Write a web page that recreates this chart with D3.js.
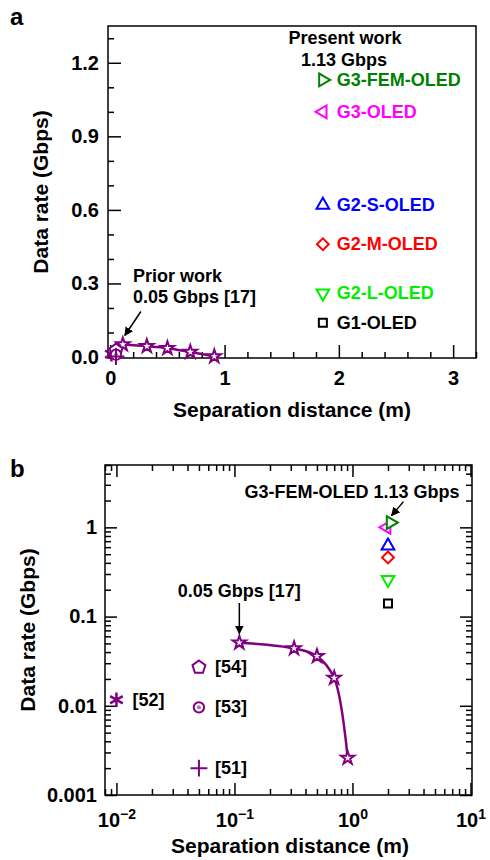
<!DOCTYPE html>
<html>
<head>
<meta charset="utf-8">
<script src="https://cdnjs.cloudflare.com/ajax/libs/d3/7.8.5/d3.min.js"></script>
<style>
  body { margin: 0; background: #fff; }
  svg text { font-family: "Liberation Sans", Arial, Helvetica, sans-serif; font-weight: bold; }
</style>
</head>
<body>
<script>
"use strict";
// prior work [17], star curve
const priorDist = [0.11, 0.32, 0.5, 0.7, 0.91]
const priorRate = [0.051, 0.044, 0.036, 0.0205, 0.0026]
// other references
const refLabels = ["[52]", "[54]", "[53]", "[51]"]
const refDist = [0.01, 0.05, 0.05, 0.05]
const refRate = [0.0117, 0.027, 0.0096, 0.002]
const refShapes = ["asterisk", "pentagon", "circle", "plus"]
// present work
const gNames = ["G3-FEM-OLED", "G3-OLED", "G2-S-OLED", "G2-M-OLED", "G2-L-OLED", "G1-OLED"]
const gRates = [1.13, 1.0, 0.62, 0.46, 0.26, 0.14]
const gDist = [2.1, 1.95, 2, 2, 2, 2]
const gLegendDist = 1.86
const gColors = ["#008000", "#ff00ff", "#0000ff", "#ff0000", "#00ee00", "#000000"]
const gShapes = ["triRight", "triLeft", "triUp", "diamond", "triDown", "square"]
// ticks
const aXTicks = [0, 1, 2, 3]
const aYTicks = [0, 0.3, 0.6, 0.9, 1.2]
const bXTicks = [0.01, 0.1, 1, 10]
const bYTicks = [0.001, 0.01, 0.1, 1]

const purple = "#800080"
const font = 20

const svg = d3.select("body").append("svg")
    .attr("width", 490)
    .attr("height", 860)

svg.append("defs").append("marker")
    .attr("id", "arrow")
    .attr("viewBox", "0 0 10 10")
    .attr("refX", 9).attr("refY", 5)
    .attr("markerWidth", 6).attr("markerHeight", 6)
    .attr("orient", "auto-start-reverse")
    .append("path").attr("d", "M0,0L10,5L0,10z").attr("fill", "#000")

// custom pentagon symbol
const symbolPentagon = {
    draw(ctx, size) {
        const r = Math.sqrt(size / 2.378)
        for (let i = 0; i < 5; i++) {
            const a = -Math.PI / 2 + i * 2 * Math.PI / 5
            if (i === 0) ctx.moveTo(r * Math.cos(a), r * Math.sin(a))
            else ctx.lineTo(r * Math.cos(a), r * Math.sin(a))
        }
        ctx.closePath()
    }
}

function shapeInfo(name) {
    switch (name) {
        case "star": return { type: d3.symbolStar, size: 55, rot: 0 }
        case "triUp": return { type: d3.symbolTriangle, size: 70, rot: 0 }
        case "triDown": return { type: d3.symbolTriangle, size: 70, rot: 180 }
        case "triRight": return { type: d3.symbolTriangle, size: 70, rot: 90 }
        case "triLeft": return { type: d3.symbolTriangle, size: 70, rot: -90 }
        case "diamond": return { type: d3.symbolSquare, size: 70, rot: 45 }
        case "square": return { type: d3.symbolSquare, size: 64, rot: 0 }
        case "pentagon": return { type: symbolPentagon, size: 110, rot: 0 }
        case "circle": return { type: d3.symbolCircle, size: 85, rot: 0 }
        case "plus": return { type: d3.symbolPlus, size: 95, rot: 0 }
        case "asterisk": return { type: d3.symbolAsterisk, size: 150, rot: 0 }
    }
}

function drawMark(g, x, y, shape, color) {
    const s = shapeInfo(shape)
    g.append("path")
        .attr("d", d3.symbol().type(s.type).size(s.size)())
        .attr("transform", `translate(${x},${y}) rotate(${s.rot})`)
        .attr("fill", (shape === "plus" || shape === "asterisk") ? "none" : "#fff")
        .attr("stroke", color)
        .attr("stroke-width", shape === "asterisk" ? 2.5 : 2)
    if (shape === "circle") {
        g.append("circle").attr("cx", x).attr("cy", y).attr("r", 2)
            .attr("fill", "#b070b0")
    }
}

function styleAxis(g) {
    g.select(".domain").remove()
    g.selectAll(".tick line").attr("stroke-width", 1.5)
    g.selectAll(".tick text").attr("font-size", font).attr("fill", "#000")
        .attr("font-family", null)
}

function addArrow(x1, y1, x2, y2) {
    svg.append("line")
        .attr("x1", x1).attr("y1", y1).attr("x2", x2).attr("y2", y2)
        .attr("stroke", "#000").attr("stroke-width", 1.5)
        .attr("marker-end", "url(#arrow)")
}

function addText(x, y, str, opts) {
    const o = Object.assign({ size: 18, anchor: "start", color: "#000", base: null }, opts)
    return svg.append("text")
        .attr("x", x).attr("y", y)
        .attr("font-size", o.size)
        .attr("text-anchor", o.anchor)
        .attr("fill", o.color)
        .attr("dominant-baseline", o.base)
        .text(str)
}

// ---------- panel a ----------
function panelA() {
    const box = { left: 108, top: 26, right: 476, bottom: 358 }
    const x = d3.scaleLinear().domain([-0.02, 3.2]).range([box.left, box.right])
    const y = d3.scaleLinear().domain([-0.004, 1.35]).range([box.bottom, box.top])

    const minorX = d3.range(0, 3.21, 0.2).filter(v => !aXTicks.some(t => Math.abs(t - v) < 1e-6))
    const minorY = d3.range(0, 1.351, 0.1).filter(v => !aYTicks.some(t => Math.abs(t - v) < 1e-6))

    svg.append("g").attr("transform", `translate(0,${box.bottom})`)
        .call(d3.axisBottom(x).tickValues(aXTicks).tickFormat(d3.format("d"))
            .tickSizeInner(-13).tickSizeOuter(0).tickPadding(13))
        .call(styleAxis)
    svg.append("g").attr("transform", `translate(0,${box.bottom})`)
        .call(d3.axisBottom(x).tickValues(minorX).tickFormat("").tickSizeInner(-6).tickSizeOuter(0))
        .call(styleAxis)
    svg.append("g").attr("transform", `translate(${box.left},0)`)
        .call(d3.axisLeft(y).tickValues(aYTicks).tickFormat(d3.format(".1f"))
            .tickSizeInner(-13).tickSizeOuter(0).tickPadding(9))
        .call(styleAxis)
    svg.append("g").attr("transform", `translate(${box.left},0)`)
        .call(d3.axisLeft(y).tickValues(minorY).tickFormat("").tickSizeInner(-6).tickSizeOuter(0))
        .call(styleAxis)

    svg.append("rect")
        .attr("x", box.left).attr("y", box.top)
        .attr("width", box.right - box.left).attr("height", box.bottom - box.top)
        .attr("fill", "none").attr("stroke", "#000").attr("stroke-width", 1.5)

    const g = svg.append("g")
    const line = d3.line().curve(d3.curveCatmullRom)
        .x((d, i) => x(priorDist[i])).y(d => y(d))
    g.append("path").attr("d", line(priorRate))
        .attr("fill", "none").attr("stroke", purple).attr("stroke-width", 2.5)
    priorRate.forEach((r, i) => drawMark(g, x(priorDist[i]), y(r), "star", purple))
    refRate.forEach((r, i) => drawMark(g, x(refDist[i]), y(r), refShapes[i], purple))

    gRates.forEach((r, i) => {
        drawMark(g, x(gLegendDist), y(r), gShapes[i], gColors[i])
        addText(x(gLegendDist) + 14, y(r), gNames[i], { color: gColors[i], base: "central" })
    })

    addText(345, 44, "Present work", { anchor: "middle" })
    addText(344, 66, "1.13 Gbps", { anchor: "middle" })
    addText(133, 282, "Prior work")
    addText(133, 303, "0.05 Gbps [17]")
    const sx = x(priorDist[0]), sy = y(priorRate[0])
    addArrow(sx + 18, sy - 33, sx + 2, sy - 9)

    addText(10, 25, "a", { size: 24 })
    addText((box.left + box.right) / 2 - 0, 417, "Separation distance (m)", { size: 21, anchor: "middle" })
    svg.append("text")
        .attr("transform", `translate(48,${(box.top + box.bottom) / 2}) rotate(-90)`)
        .attr("text-anchor", "middle").attr("font-size", 21)
        .text("Data rate (Gbps)")
}

// ---------- panel b ----------
function panelB() {
    const box = { left: 105, top: 465, right: 472, bottom: 795 }
    const x = d3.scaleLog().domain([0.008, 10.3]).range([box.left, box.right])
    const y = d3.scaleLog().domain([0.001, 5]).range([box.bottom, box.top])

    const minorOf = (scale, major) => scale.ticks()
        .filter(v => v >= scale.domain()[0] && v <= scale.domain()[1])
        .filter(v => !major.some(t => Math.abs(t - v) / t < 1e-6))
    const minorX = minorOf(x, bXTicks)
    const minorY = minorOf(y, bYTicks)

    const fmtY = d => d >= 1 ? "1" : String(d)

    // bottom
    const bottom = svg.append("g").attr("transform", `translate(0,${box.bottom})`)
        .call(d3.axisBottom(x).tickValues(bXTicks).tickFormat("")
            .tickSizeInner(-12).tickSizeOuter(0).tickPadding(18))
        .call(styleAxis)
    bottom.selectAll(".tick text").each(function(d) {
        const t = d3.select(this)
        t.append("tspan").text("10")
        t.append("tspan").attr("dy", -8).attr("font-size", 14)
            .text(Math.log10(d) < 0 ? "\u2212" + Math.abs(Math.round(Math.log10(d))) : Math.round(Math.log10(d)))
    })
    svg.append("g").attr("transform", `translate(0,${box.bottom})`)
        .call(d3.axisBottom(x).tickValues(minorX).tickFormat("").tickSizeInner(-6).tickSizeOuter(0))
        .call(styleAxis)
    // top
    svg.append("g").attr("transform", `translate(0,${box.top})`)
        .call(d3.axisTop(x).tickValues(bXTicks).tickFormat("").tickSizeInner(-12).tickSizeOuter(0))
        .call(styleAxis)
    svg.append("g").attr("transform", `translate(0,${box.top})`)
        .call(d3.axisTop(x).tickValues(minorX).tickFormat("").tickSizeInner(-6).tickSizeOuter(0))
        .call(styleAxis)
    // left
    svg.append("g").attr("transform", `translate(${box.left},0)`)
        .call(d3.axisLeft(y).tickValues(bYTicks).tickFormat(fmtY)
            .tickSizeInner(-12).tickSizeOuter(0).tickPadding(8))
        .call(styleAxis)
    svg.append("g").attr("transform", `translate(${box.left},0)`)
        .call(d3.axisLeft(y).tickValues(minorY).tickFormat("").tickSizeInner(-6).tickSizeOuter(0))
        .call(styleAxis)
    // right
    svg.append("g").attr("transform", `translate(${box.right},0)`)
        .call(d3.axisRight(y).tickValues(bYTicks).tickFormat("").tickSizeInner(-12).tickSizeOuter(0))
        .call(styleAxis)
    svg.append("g").attr("transform", `translate(${box.right},0)`)
        .call(d3.axisRight(y).tickValues(minorY).tickFormat("").tickSizeInner(-6).tickSizeOuter(0))
        .call(styleAxis)

    svg.append("rect")
        .attr("x", box.left).attr("y", box.top)
        .attr("width", box.right - box.left).attr("height", box.bottom - box.top)
        .attr("fill", "none").attr("stroke", "#000").attr("stroke-width", 1.5)

    const g = svg.append("g")
    const line = d3.line().curve(d3.curveCatmullRom)
        .x((d, i) => x(priorDist[i])).y(d => y(d))
    g.append("path").attr("d", line(priorRate))
        .attr("fill", "none").attr("stroke", purple).attr("stroke-width", 2.5)
    priorRate.forEach((r, i) => drawMark(g, x(priorDist[i]), y(r), "star", purple))
    refRate.forEach((r, i) => {
        drawMark(g, x(refDist[i]), y(r), refShapes[i], purple)
        addText(x(refDist[i]) + 16, y(r), refLabels[i], { base: "central" })
    })
    // draw G3-OLED under G3-FEM-OLED
    const order = [1, 0, 2, 3, 4, 5]
    order.forEach(i => drawMark(g, x(gDist[i]), y(gRates[i]), gShapes[i], gColors[i]))

    const gx = x(gDist[0]), gy = y(gRates[0])
    addText(352, 498, "G3-FEM-OLED 1.13 Gbps", { anchor: "middle" })
    addArrow(gx + 13, gy - 21, gx + 1, gy - 7)

    const sx = x(priorDist[0]), sy = y(priorRate[0])
    addText(sx, 597, "0.05 Gbps [17]", { anchor: "middle" })
    addArrow(sx, 603, sx, sy - 9)

    addText(10, 477, "b", { size: 24 })
    addText(290, 853, "Separation distance (m)", { size: 21, anchor: "middle" })
    svg.append("text")
        .attr("transform", `translate(35,${(box.top + box.bottom) / 2}) rotate(-90)`)
        .attr("text-anchor", "middle").attr("font-size", 21)
        .text("Data rate (Gbps)")
}

panelA()
panelB()
</script>
</body>
</html>
